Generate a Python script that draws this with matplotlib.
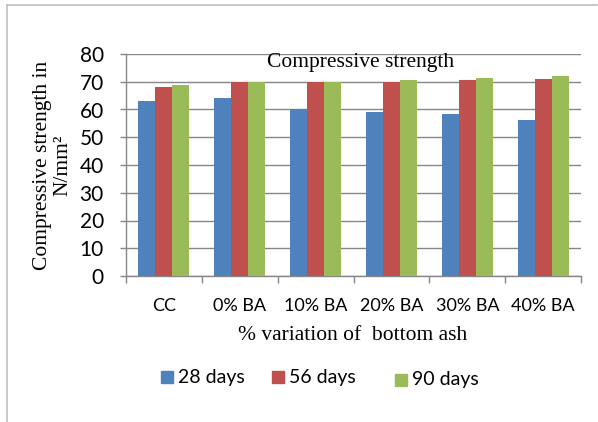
import numpy as np
import matplotlib
matplotlib.use('Agg')
import matplotlib.pyplot as plt
from matplotlib.lines import Line2D
from matplotlib.patches import Rectangle

# data
categories = ['CC', '0% BA', '10% BA', '20% BA', '30% BA', '40% BA']
days_28 = [63.1, 64.0, 60.0, 59.0, 58.4, 56.2]
days_56 = [68.0, 69.8, 69.8, 69.8, 70.6, 71.0]
days_90 = [68.8, 70.0, 70.0, 70.5, 71.2, 72.1]
series_names = ['28 days', '56 days', '90 days']
colors = ['#4F81BD', '#C0504D', '#9BBB59']

sans = ['Lato', 'DejaVu Sans']
serif = ['Liberation Serif', 'DejaVu Serif']

fig = plt.figure(figsize=(5.98, 4.22), dpi=100)
ax = fig.add_axes([126 / 598, 1 - 276 / 422, (581 - 126) / 598, (276 - 54) / 422])

x = np.arange(len(categories))
w = 0.224
for i, vals in enumerate([days_28, days_56, days_90]):
    ax.bar(x + (i - 1) * w, vals, width=w, color=colors[i], zorder=3)

ax.set_xlim(-0.5, len(categories) - 0.5)
ax.set_ylim(0, 80)
ax.set_yticks(np.arange(0, 81, 10))
ax.yaxis.grid(True, color='#868686', linewidth=1.0, zorder=0)
ax.set_axisbelow(True)

for s in ['top', 'right']:
    ax.spines[s].set_visible(False)
for s in ['left', 'bottom']:
    ax.spines[s].set_color('#868686')
    ax.spines[s].set_linewidth(1.0)

ax.set_xticks(x)
ax.set_xticklabels(categories, family=sans, fontsize=13)
ax.set_xticks(np.arange(-0.5, len(categories)), minor=True)
ax.tick_params(axis='x', which='major', length=0, pad=16)
ax.tick_params(axis='x', which='minor', length=5, color='#868686', width=1)
ax.tick_params(axis='y', length=4, color='#868686', width=1, pad=12)
for lab in ax.get_yticklabels():
    lab.set_family(sans)
    lab.set_fontsize(15)

ax.text(0.515, 0.96, 'Compressive strength', transform=ax.transAxes, ha='center', va='center',
        family=serif, fontsize=15.5)
fig.text(53 / 598, 1 - 165 / 422, 'Compressive strength in\nN/mm²', rotation=90,
         ha='center', va='center', family=serif, fontsize=15.5, linespacing=1.1)
fig.text(353 / 598, 1 - 335 / 422, '% variation of  bottom ash', ha='center', va='center',
         family=serif, fontsize=15.5)

# legend
leg_items = [(167, 377), (278, 377), (401, 380)]
for (px, py), c, name in zip(leg_items, colors, series_names):
    fig.add_artist(Rectangle((px / 598 - 6 / 598, 1 - py / 422 - 6 / 422), 12 / 598, 12 / 422,
                             color=c, transform=fig.transFigure))
    fig.text((px + 11) / 598, 1 - py / 422, name, ha='left', va='center', family=sans, fontsize=14)

# frame lines of the chart area
fig.add_artist(Line2D([7 / 598, 597 / 598], [1 - 5 / 422, 1 - 5 / 422], color='#bfbfbf', lw=1.2))
fig.add_artist(Line2D([7 / 598, 7 / 598], [0, 1 - 5 / 422], color='#bfbfbf', lw=1.2))

fig.savefig('out.png', dpi=100)
